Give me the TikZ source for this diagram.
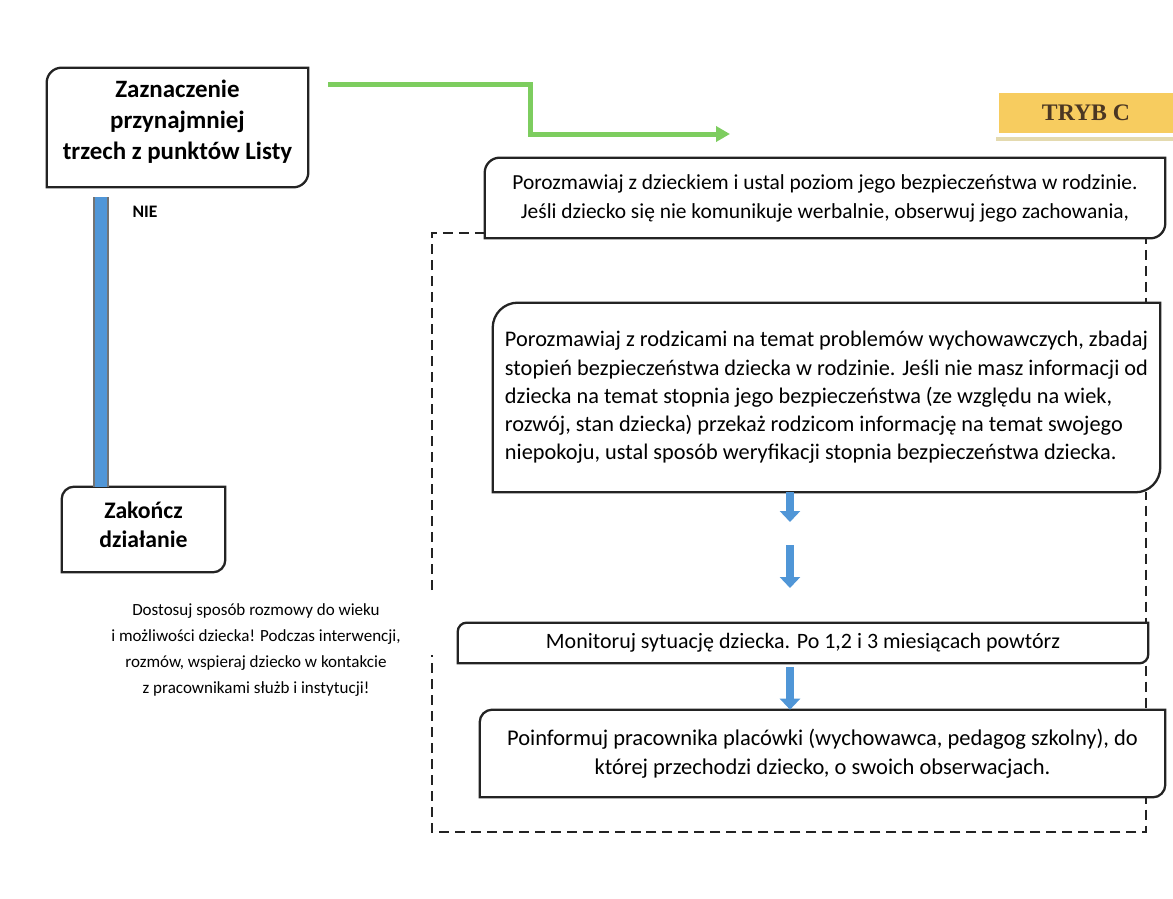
\documentclass[tikz,border=0pt]{standalone}
\usepackage{fontspec}
\setmainfont{Carlito}
\newfontfamily\trybfont{Liberation Serif}
\usetikzlibrary{positioning, arrows.meta}

\definecolor{frameink}{RGB}{35,35,35}
\definecolor{flowblue}{RGB}{80,150,215}
\definecolor{flowgreen}{RGB}{125,205,95}
\definecolor{trybfill}{RGB}{247,204,95}
\definecolor{trybshade}{RGB}{228,218,175}
\definecolor{trybink}{RGB}{75,55,35}

% frame with rounded top-left and bottom-right corners
\newcommand{\diagframe}[2]{%
  \draw[frame_line] (#1.south west) -- ([yshift=-#2]#1.north west)
    arc[start angle=180, end angle=90, radius=#2] -- (#1.north east)
    -- ([yshift=#2]#1.south east)
    arc[start angle=0, end angle=-90, radius=#2] -- cycle;}

\begin{document}
\begin{tikzpicture}[
      x=0.02cm, y=-0.02cm,
      frame_line/.style={draw=frameink, line width=1.3pt},
      box_node/.style={fill=white, inner sep=0pt, align=center, font=\fontsize{12.2}{16.5}\selectfont},
      head_node/.style={box_node, font=\bfseries\fontsize{14.2}{17.5}\selectfont},
      dash_frame/.style={draw=frameink, line width=0.9pt, dash pattern=on 0.2cm off 0.12cm},
      flow_arrow/.style={-{Triangle[width=0.4cm, length=0.22cm]}, line width=0.16cm, flowblue},
      green_path/.style={-{Triangle[width=0.3cm, length=0.28cm]}, line width=0.1cm, flowgreen},
      nie_bar/.style={draw=black!55, line width=0.04cm, double=flowblue, double distance=0.26cm}
    ]
      \useasboundingbox (0,0) rectangle (1173,899);

      % dashed frame of the procedure
      \draw[dash_frame] (432,590) -- (432,233) -- (1146,233) -- (1146,832) -- (432,832) -- (432,655);

      \node[head_node, minimum width=5.22cm, minimum height=2.38cm] (lista) at (177.5,127.5)
        {Zaznaczenie\\ przynajmniej\\ trzech z punktów Listy\\[-0.3cm]\mbox{}};
      \node[head_node, font=\bfseries\fontsize{13.5}{16.5}\selectfont, minimum width=3.26cm, minimum height=1.70cm] (koniec) at (143.5,529.5)
        {Zakończ\\ działanie\\[-0.4cm]\mbox{}};
      \node[fill=trybfill, minimum width=3.5cm, minimum height=0.8cm, font=\trybfont\bfseries\fontsize{13.5}{15}\selectfont, text=trybink] (tryb) at (1086,113) {TRYB C};
      \fill[trybshade] (996,137) rectangle (1173,141);

      \node[box_node, minimum width=13.6cm, minimum height=1.60cm] (dziecko) at (825,198)
        {Porozmawiaj z dzieckiem i ustal poziom jego bezpieczeństwa w rodzinie.\\
         Jeśli dziecko się nie komunikuje werbalnie, obserwuj jego zachowania,};
      \node[box_node, align=left, minimum width=13.34cm, minimum height=3.78cm,
            font=\fontsize{12.7}{16.1}\selectfont] (rodzice) at (826.5,397.5)
        {Porozmawiaj z rodzicami na temat problemów wychowawczych, zbadaj\\
         stopień bezpieczeństwa dziecka w rodzinie. Jeśli nie masz informacji od\\
         dziecka na temat stopnia jego bezpieczeństwa (ze względu na wiek,\\
         rozwój, stan dziecka) przekaż rodzicom informację na temat swojego\\
         niepokoju, ustal sposób weryfikacji stopnia bezpieczeństwa dziecka.};
      \node[box_node, font=\fontsize{12.5}{15}\selectfont, minimum width=13.8cm, minimum height=0.8cm] (monitor) at (803,643)
        {Monitoruj sytuację dziecka. Po 1,2 i 3 miesiącach powtórz};
      \node[box_node, font=\fontsize{12.8}{16.5}\selectfont, minimum width=13.7cm, minimum height=1.74cm] (placowka) at (822.5,753.5)
        {Poinformuj pracownika placówki (wychowawca, pedagog szkolny), do\\
         której przechodzi dziecko, o swoich obserwacjach.};

      \diagframe{lista}{0.3cm}
      \diagframe{koniec}{0.25cm}
      \diagframe{dziecko}{0.3cm}
      \diagframe{rodzice}{0.5cm}
      \diagframe{monitor}{0.18cm}
      \diagframe{placowka}{0.25cm}

      \node[font=\bfseries\fontsize{10}{12}\selectfont] (nie) at (145,212) {NIE};
      \node[align=center, font=\fontsize{9.7}{14.8}\selectfont] (uwaga) at (256,650)
        {Dostosuj sposób rozmowy do wieku\\
         i możliwości dziecka! Podczas interwencji,\\
         rozmów, wspieraj dziecko w kontakcie\\
         z pracownikami służb i instytucji!};

      % connectors
      \coordinate (bar_top) at (101,197);
      \draw[nie_bar] (bar_top) -- (koniec.north -| bar_top);

      \coordinate (g_start) at (328,84);
      \coordinate (g_end) at (730,134);
      \draw[green_path] (g_start) -- (530,84) -- (530,134) -- (g_end);

      \coordinate (a_col) at (790,0);
      \coordinate (a1_end) at (790,522);
      \coordinate (a2_start) at (790,545);
      \coordinate (a2_end) at (790,588);
      \draw[flow_arrow] (rodzice.south -| a_col) -- (a1_end);
      \draw[flow_arrow] (a2_start) -- (a2_end);
      \draw[flow_arrow] ([yshift=-0.08cm]monitor.south -| a_col) -- (placowka.north -| a_col);
    \end{tikzpicture}
\end{document}
